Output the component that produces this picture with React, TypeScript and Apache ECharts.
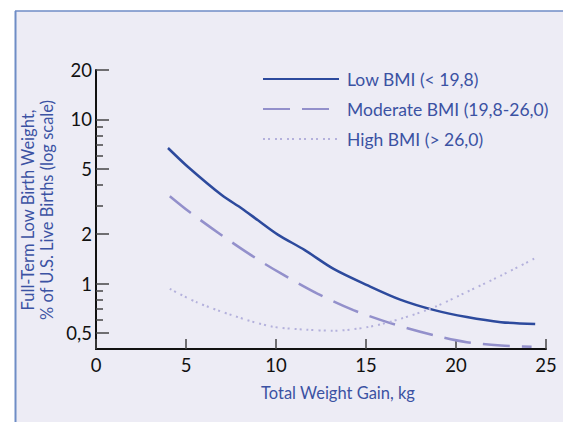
import React, { useEffect, useRef } from "react";
import * as echarts from "echarts";

const lowX = [4, 5.1, 7, 8.1, 9, 10.1, 11.6, 13.2, 15.06, 16.9, 18.8, 20.6, 22.5, 24.4];
const lowY = [6.7, 5.15, 3.45, 2.87, 2.43, 1.99, 1.6, 1.23, 0.98, 0.8, 0.69, 0.626, 0.583, 0.567];
const modX = [4.1, 5.2, 6.9, 8.7, 10.3, 12.3, 14.3, 16.35, 18.8, 20.6, 22.5, 24.2];
const modY = [3.41, 2.73, 2.0, 1.47, 1.15, 0.87, 0.69, 0.575, 0.484, 0.44, 0.42, 0.413];
const highX = [4.1, 5.6, 7.6, 9.7, 11.6, 13.2, 15.1, 16.9, 18.8, 20.6, 22.5, 24.4];
const highY = [0.93, 0.77, 0.64, 0.55, 0.525, 0.517, 0.544, 0.61, 0.72, 0.89, 1.12, 1.43];

const seriesNames = ["Low BMI (< 19,8)", "Moderate BMI (19,8-26,0)", "High BMI (> 26,0)"];
const yMajorTicks = [0.5, 1, 2, 5, 10, 20];
const yMinorTicks = [0.6, 0.7, 0.8, 0.9, 3, 4, 6, 7, 8, 9];
const xTitle = "Total Weight Gain, kg";
const yTitle1 = "Full-Term Low Birth Weight,";
const yTitle2 = "% of U.S. Live Births (log scale)";

const FONT = 'Lato, "DejaVu Sans", sans-serif';
const BLUE_TEXT = "#3b52a3";

function pairs(xs: number[], ys: number[]) {
  return xs.map((x, i) => [x, ys[i]]);
}

export default function App() {
  const ref = useRef<HTMLDivElement>(null);
  useEffect(() => {
    if (!ref.current) return;
    const chart = echarts.init(ref.current, null, { renderer: "svg" });
    chart.setOption({
      animation: false,
      backgroundColor: "#ffffff",
      graphic: [
        { type: "rect", z: -10, shape: { x: 15, y: 11, width: 548, height: 411 }, style: { fill: "#edecf5" } },
        { type: "line", z: -9, shape: { x1: 15, y1: 11, x2: 563, y2: 11 }, style: { stroke: "#6f8dc6", lineWidth: 1.5 } },
        { type: "line", z: -9, shape: { x1: 15.5, y1: 11, x2: 15.5, y2: 422 }, style: { stroke: "#6f8dc6", lineWidth: 2 } },
        {
          type: "text",
          x: 28,
          y: 210,
          rotation: Math.PI / 2,
          style: { text: yTitle1, font: `16.5px ${FONT}`, fill: BLUE_TEXT, align: "center", verticalAlign: "middle" },
        },
        {
          type: "text",
          x: 47,
          y: 210,
          rotation: Math.PI / 2,
          style: { text: yTitle2, font: `16.5px ${FONT}`, fill: BLUE_TEXT, align: "center", verticalAlign: "middle" },
        },
        {
          type: "text",
          x: 338,
          y: 393,
          style: { text: xTitle, font: `16.5px ${FONT}`, fill: BLUE_TEXT, align: "center", verticalAlign: "middle" },
        },
      ],
      grid: { left: 96, right: 17, top: 70, bottom: 73 },
      legend: {
        orient: "vertical",
        left: 262,
        top: 70,
        padding: 0,
        itemWidth: 76,
        itemHeight: 14,
        itemGap: 12,
        data: seriesNames,
        itemStyle: { opacity: 0 },
        textStyle: { fontFamily: FONT, fontSize: 17.5, color: BLUE_TEXT, lineHeight: 17, padding: [0, 0, 0, 3] },
      },
      xAxis: {
        type: "value",
        min: 0,
        max: 25,
        interval: 5,
        splitLine: { show: false },
        axisLine: { lineStyle: { color: "#111", width: 2 } },
        axisTick: { inside: true, length: 10, lineStyle: { color: "#444", width: 1.5 } },
        axisLabel: { fontFamily: FONT, fontSize: 18.5, color: "#111", margin: 6 },
      },
      yAxis: [
        {
          type: "log",
          logBase: 10,
          min: 0.4,
          max: 20,
          position: "left",
          splitLine: { show: false },
          axisLine: { show: true, lineStyle: { color: "#111", width: 2 } },
          axisTick: { show: true, inside: true, length: 13, customValues: yMajorTicks, lineStyle: { color: "#444", width: 1.5 } },
          axisLabel: {
            customValues: yMajorTicks,
            fontFamily: FONT,
            fontSize: 18.5,
            color: "#111",
            margin: 4,
            formatter: (v: number) => String(v).replace(".", ","),
          },
        },
        {
          type: "log",
          logBase: 10,
          min: 0.4,
          max: 20,
          position: "left",
          offset: 0,
          splitLine: { show: false },
          axisLine: { show: false },
          axisTick: { show: true, inside: true, length: 7, customValues: yMinorTicks, lineStyle: { color: "#444", width: 1.5 } },
          axisLabel: { show: false },
        },
      ],
      series: [
        {
          name: seriesNames[0],
          type: "line",
          data: pairs(lowX, lowY),
          smooth: 0.3,
          symbol: "none",
          lineStyle: { color: "#2d4a9d", width: 2.5 },
          itemStyle: { color: "#2d4a9d" },
        },
        {
          name: seriesNames[1],
          type: "line",
          data: pairs(modX, modY),
          smooth: 0.3,
          symbol: "none",
          lineStyle: { color: "#9390cb", width: 2.5, type: [27, 12] },
          itemStyle: { color: "#9390cb" },
        },
        {
          name: seriesNames[2],
          type: "line",
          data: pairs(highX, highY),
          smooth: 0.3,
          symbol: "none",
          lineStyle: { color: "#b4b1dc", width: 2, type: [2, 3, 2, 5] },
          itemStyle: { color: "#b4b1dc" },
        },
      ],
    });
    return () => chart.dispose();
  }, []);
  return (
    <div
      ref={ref}
      style={{ position: "absolute", left: 0, top: 0, width: 563, height: 422 }}
    />
  );
}
